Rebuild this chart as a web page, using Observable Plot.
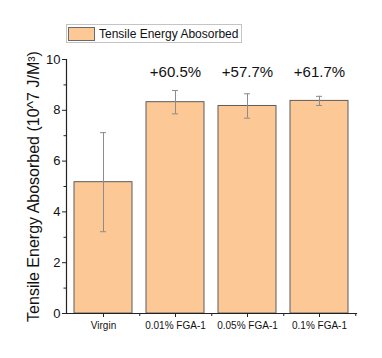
<!DOCTYPE html>
<html>
<head>
<meta charset="utf-8">
<script src="https://cdn.jsdelivr.net/npm/d3@7"></script>
<script src="https://cdn.jsdelivr.net/npm/@observablehq/plot@0.6"></script>
<style>
  html, body { margin: 0; padding: 0; background: #fff; }
  #wrap { position: relative; width: 382px; height: 358px; font-family: "Liberation Sans", Arial, sans-serif; }
  #legend { position: absolute; left: 66px; top: 24px; width: 176px; height: 19px; border: 1px solid #c4c4c4; box-sizing: border-box; background: #fff; }
  #legend .sw { position: absolute; left: 1px; top: 2px; width: 27px; height: 14px; background: #FBC896; border: 1px solid #6a6a6a; box-sizing: border-box; }
  #legend .lab { position: absolute; left: 32px; top: 1px; font-size: 12px; line-height: 16px; color: #111; white-space: nowrap; }
</style>
</head>
<body>
<div id="wrap"></div>
<script>
const categories = ["Virgin", "0.01% FGA-1", "0.05% FGA-1", "0.1% FGA-1"];
const values = [5.17, 8.32, 8.17, 8.37];
const errors = [1.95, 0.46, 0.48, 0.18];
const increases = ["", "+60.5%", "+57.7%", "+61.7%"];
const yTicks = [0, 2, 4, 6, 8, 10];
const yMinorTicks = [1, 3, 5, 7, 9];
const seriesName = "Tensile Energy Abosorbed";
const yLabel = "Tensile Energy Abosorbed (10^7 J/M³)";

const data = categories.map((c, i) => ({cat: c, v: values[i], e: errors[i], pct: increases[i]}));

const W = 382, H = 358, mL = 66, mR = 26, mT = 59, mB = 45;
const step = (W - mL - mR) / categories.length;
const barFill = "#FBC896";
const axisColor = "#222";

const chart = Plot.plot({
  width: W, height: H,
  marginLeft: mL, marginRight: mR, marginTop: mT, marginBottom: mB,
  style: {fontFamily: "'Liberation Sans', Arial, sans-serif", color: "#111", background: "#fff"},
  x: {domain: categories, paddingInner: 0.2, paddingOuter: 0.1, label: null},
  y: {domain: [0, 10], label: null},
  marks: [
    Plot.barY(data, {x: "cat", y: "v", fill: barFill, stroke: "#5c5c5c", strokeWidth: 1}),
    Plot.ruleX(data, {x: "cat", y1: d => d.v - d.e, y2: d => d.v + d.e, stroke: "#8c8c8c", strokeWidth: 1}),
    Plot.tickY(data, {x: "cat", y: d => d.v + d.e, stroke: "#8c8c8c", strokeWidth: 1, insetLeft: 26, insetRight: 26}),
    Plot.tickY(data, {x: "cat", y: d => d.v - d.e, stroke: "#8c8c8c", strokeWidth: 1, insetLeft: 26, insetRight: 26}),
    Plot.frame({anchor: "left", stroke: axisColor, strokeWidth: 1.2}),
    Plot.frame({anchor: "bottom", stroke: axisColor, strokeWidth: 1.2}),
    Plot.axisY({ticks: yTicks, tickSize: 4, tickPadding: 2, fontSize: 13, stroke: axisColor, label: null}),
    Plot.axisY({ticks: yMinorTicks, tickSize: 2.5, tickFormat: () => "", stroke: axisColor, label: null}),
    Plot.axisX({tickSize: 4, tickPadding: 4, fontSize: 10, stroke: axisColor, label: null}),
    Plot.axisX({tickSize: 3, tickFormat: () => "", dx: step / 2, stroke: axisColor, label: null}),
    Plot.text(data.filter(d => d.pct), {x: "cat", text: "pct", frameAnchor: "top", lineAnchor: "middle", dy: 13, fontSize: 15, fill: "#111"}),
    Plot.text([yLabel], {text: d => d, frameAnchor: "left", textAnchor: "middle", lineAnchor: "middle", rotate: -90, dx: -33, fontSize: 16, fill: "#111"})
  ]
});

const wrap = document.getElementById("wrap");
wrap.appendChild(chart);
const legend = document.createElement("div");
legend.id = "legend";
legend.innerHTML = `<div class="sw"></div><div class="lab">${seriesName}</div>`;
wrap.appendChild(legend);
</script>
</body>
</html>
